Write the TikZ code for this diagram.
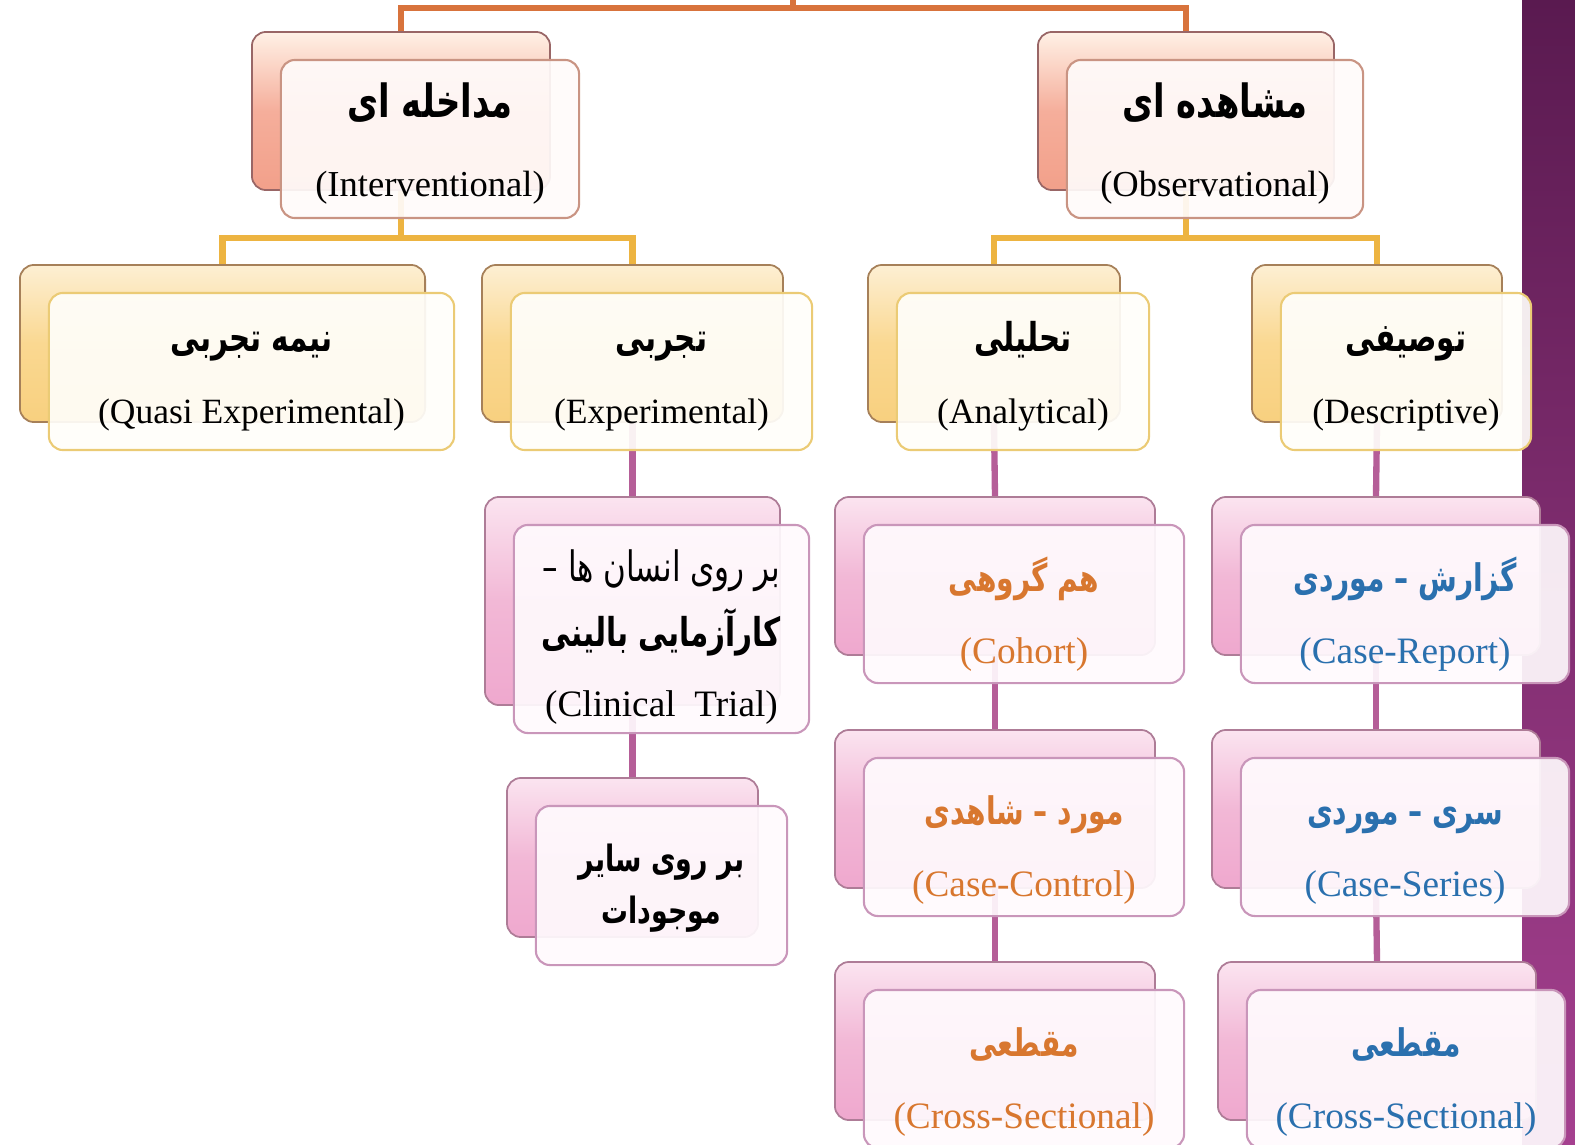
\documentclass[tikz,border=0pt]{standalone}
\usepackage{fontspec}
\setmainfont{Liberation Serif}
\newfontfamily\farsi[Script=Arabic, FakeStretch=0.74]{DejaVu Sans}
\TeXXeTstate=1
\usepackage{tikz}
\usetikzlibrary{backgrounds}

\definecolor{lineO}{HTML}{D8733C}
\definecolor{lineY}{HTML}{EDB441}
\definecolor{lineP}{HTML}{B55E98}
\definecolor{txtO}{HTML}{D8772F}
\definecolor{txtB}{HTML}{2A70AE}
\definecolor{stripT}{HTML}{5A1A50}
\definecolor{stripB}{HTML}{A5408F}

\newcommand{\persB}[2][10.8]{{\farsi\bfseries\fontsize{#1}{#1}\selectfont\beginR #2\endR}}
\newcommand{\persR}[2][10.8]{{\farsi\fontsize{#1}{#1}\selectfont\beginR #2\endR}}
\newcommand{\lift}[1]{\rule{0pt}{#1}}

\tikzset{
    boxsize/.style 2 args={minimum width=#1cm, minimum height=#2cm},
    backI/.style={draw=gray!80!red, line width=0.5pt, rounded corners=4pt, inner sep=0pt,
        top color=red!12!orange!10, bottom color={rgb,255:red,242;green,160;blue,138},
        middle color={rgb,255:red,245;green,174;blue,155}},
    backII/.style={draw=gray!70!orange, line width=0.5pt, rounded corners=4pt, inner sep=0pt,
        top color={rgb,255:red,253;green,239;blue,211}, bottom color={rgb,255:red,248;green,208;blue,127},
        middle color={rgb,255:red,250;green,216;blue,145}},
    backIII/.style={draw=gray!70!magenta, line width=0.5pt, rounded corners=4pt, inner sep=0pt,
        top color={rgb,255:red,251;green,228;blue,240}, bottom color={rgb,255:red,239;green,168;blue,206},
        middle color={rgb,255:red,242;green,184;blue,214}},
    front/.style={line width=0.6pt, rounded corners=4pt, fill opacity=0.92, text opacity=1,
        inner sep=0pt, align=center},
    frontI/.style={front, draw={rgb,255:red,201;green,148;blue,131}, fill={rgb,255:red,255;green,251;blue,250},
        font=\fontsize{10.4}{12.5}\selectfont},
    frontII/.style={front, draw={rgb,255:red,235;green,203;blue,117}, fill={rgb,255:red,255;green,254;blue,250},
        font=\fontsize{10.1}{12.5}\selectfont},
    frontIII/.style={front, draw={rgb,255:red,201;green,150;blue,186}, fill={rgb,255:red,255;green,250;blue,253},
        font=\fontsize{10.6}{12.5}\selectfont},
    oline/.style={draw=lineO, line width=1.8pt},
    yline/.style={draw=lineY, line width=1.8pt},
    pline/.style={draw=lineP, line width=1.8pt},
}

\begin{document}
\begin{tikzpicture}[x=0.01cm, y=-0.01cm]

    \useasboundingbox (0,0) rectangle (1575,1145);
    \fill[top color=stripT, bottom color=stripB] (1522,0) rectangle (1575,1145);

    \node[backI, boxsize={2.98}{1.58}] (intB) at (401,111) {};
    \node[frontI, boxsize={2.98}{1.58}] (int) at (430,139)
        {\lift{12.3pt}\persB[13]{مداخله ای}\\[10pt](Interventional)};
    \node[backI, boxsize={2.96}{1.58}] (obsB) at (1186,111) {};
    \node[frontI, boxsize={2.96}{1.58}] (obs) at (1215,139)
        {\lift{12.3pt}\persB[13]{مشاهده ای}\\[10pt](Observational)};

    \node[backII, boxsize={4.05}{1.57}] (quaB) at (222.5,343.5) {};
    \node[frontII, boxsize={4.05}{1.57}] (qua) at (251.5,371.5)
        {\lift{11.4pt}\persB[11.3]{نیمه تجربی}\\[8pt](Quasi Experimental)};
    \node[backII, boxsize={3.01}{1.57}] (expB) at (632.5,343.5) {};
    \node[frontII, boxsize={3.01}{1.57}] (exp) at (661.5,371.5)
        {\lift{11.4pt}\persB[11.3]{تجربی}\\[8pt](Experimental)};
    \node[backII, boxsize={2.52}{1.57}] (anaB) at (994,343.5) {};
    \node[frontII, boxsize={2.52}{1.57}] (ana) at (1023,371.5)
        {\lift{11.4pt}\persB[11.3]{تحلیلی}\\[8pt](Analytical)};
    \node[backII, boxsize={2.50}{1.57}] (desB) at (1377,343.5) {};
    \node[frontII, boxsize={2.50}{1.57}] (des) at (1406,371.5)
        {\lift{11.4pt}\persB[11.3]{توصیفی}\\[8pt](Descriptive)};

    \node[backIII, boxsize={2.95}{2.08}] (cliB) at (632.5,601) {};
    \node[frontIII, boxsize={2.95}{2.08}] (cli) at (661.5,629)
        {\lift{13.7pt}\persR[11.9]{بر روی انسان ها –}\\[3.8pt]\persB[11.3]{کارآزمایی بالینی}\\[7.3pt](Clinical\ \ Trial)};
    \node[backIII, boxsize={2.51}{1.59}] (othB) at (632.5,857.5) {};
    \node[frontIII, boxsize={2.51}{1.59}] (oth) at (661.5,885.5)
        {\lift{9.5pt}\persB[10.3]{بر روی سایر}\\[2.3pt]\persB[10.3]{موجودات}};

    \node[backIII, boxsize={3.20}{1.58}] (cohB) at (995,576) {};
    \node[frontIII, boxsize={3.20}{1.58}, text=txtO] (coh) at (1024,604)
        {\lift{15.5pt}\persB{هم گروهی}\\[8pt](Cohort)};
    \node[backIII, boxsize={3.20}{1.58}] (ccB) at (995,809) {};
    \node[frontIII, boxsize={3.20}{1.58}, text=txtO] (cc) at (1024,837)
        {\lift{15.5pt}\persB{مورد – شاهدی}\\[8pt](Case-Control)};
    \node[backIII, boxsize={3.20}{1.58}] (csaB) at (995,1041) {};
    \node[frontIII, boxsize={3.20}{1.58}, text=txtO] (csa) at (1024,1069)
        {\lift{15.5pt}\persB{مقطعی}\\[8pt](Cross-Sectional)};

    \node[backIII, boxsize={3.28}{1.58}] (crB) at (1376,576) {};
    \node[frontIII, boxsize={3.28}{1.58}, text=txtB] (cr) at (1405,604)
        {\lift{15.5pt}\persB{گزارش – موردی}\\[8pt](Case-Report)};
    \node[backIII, boxsize={3.28}{1.58}] (csB) at (1376,809) {};
    \node[frontIII, boxsize={3.28}{1.58}, text=txtB] (cs) at (1405,837)
        {\lift{15.5pt}\persB{سری – موردی}\\[8pt](Case-Series)};
    \node[backIII, boxsize={3.18}{1.58}] (csdB) at (1377,1041) {};
    \node[frontIII, boxsize={3.18}{1.58}, text=txtB] (csd) at (1406,1069)
        {\lift{15.5pt}\persB{مقطعی}\\[8pt](Cross-Sectional)};

    \coordinate (rootT) at (793,0);
    \coordinate (root) at (793,8);
    \coordinate (intJ) at (401,238);
    \coordinate (obsJ) at (1186,238);

    \begin{scope}[on background layer]
        \draw[oline] (root) -- (rootT);
        \draw[oline] (intB.north) |- (root) -| (obsB.north);
        \draw[yline] (intB.south) -- (intJ);
        \draw[yline] (quaB.north) |- (intJ) -| (expB.north);
        \draw[yline] (obsB.south) -- (obsJ);
        \draw[yline] (anaB.north) |- (obsJ) -| (desB.north);
        \draw[pline] (expB.south) -- (cliB.north);
        \draw[pline] (cliB.south) -- (othB.north);
        \draw[pline] (anaB.south) -- (cohB.north);
        \draw[pline] (cohB.south) -- (ccB.north);
        \draw[pline] (ccB.south) -- (csaB.north);
        \draw[pline] (desB.south) -- (crB.north);
        \draw[pline] (crB.south) -- (csB.north);
        \draw[pline] (csB.south) -- (csdB.north);
    \end{scope}

\end{tikzpicture}
\end{document}
